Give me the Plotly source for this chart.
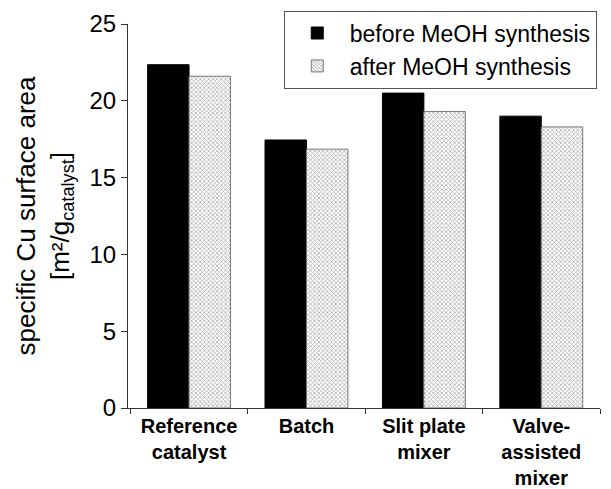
import plotly.graph_objects as go

categories = ["<b>Reference<br>catalyst</b>", "<b>Batch</b>", "<b>Slit plate<br>mixer</b>", "<b>Valve-<br>assisted<br>mixer</b>"]
before = [22.35, 17.45, 20.5, 19.0]
after = [21.6, 16.85, 19.3, 18.3]
x_pos = [0, 1, 2, 3]
boundaries = [-0.5, 0.5, 1.5, 2.5, 3.5]
y_ticks = [0, 5, 10, 15, 20, 25]

fig = go.Figure()
fig.add_trace(go.Bar(
    x=x_pos, y=before, name="before MeOH synthesis",
    marker=dict(color="black", line=dict(color="black", width=1)),
))
fig.add_trace(go.Bar(
    x=x_pos, y=after, name="after MeOH synthesis",
    marker=dict(color="white", line=dict(color="#777777", width=1),
                pattern=dict(shape="x", fgcolor="#5f5f5f", bgcolor="white", size=3, solidity=0.45)),
))

fig.update_layout(
    width=611, height=489,
    margin=dict(l=128, r=11, t=24, b=81, autoexpand=False),
    plot_bgcolor="white", paper_bgcolor="white",
    barmode="group", bargap=0.294, bargroupgap=0,
    font=dict(family="Liberation Sans, Arial, sans-serif", color="black"),
    showlegend=True,
    legend=dict(
        x=0.33, y=1.035, xanchor="left", yanchor="top",
        bordercolor="#555555", borderwidth=1, bgcolor="white",
        font=dict(size=23), tracegroupgap=0, itemwidth=55,
    ),
)

fig.update_xaxes(
    range=[-0.52, 3.5],
    tickvals=x_pos, ticktext=categories,
    ticks="", tickfont=dict(size=20),
    ticklabelstandoff=0, automargin=False,
    showline=True, linecolor="#333333", linewidth=1,
    showgrid=False, zeroline=False,
    minor=dict(tickvals=boundaries, ticks="outside", ticklen=5, tickcolor="#333333", tickwidth=1),
)
fig.update_yaxes(
    range=[0, 25], tickvals=y_ticks,
    ticks="outside", ticklen=6, tickcolor="#333333",
    tickfont=dict(size=24), automargin=False,
    showline=True, linecolor="#333333", linewidth=1,
    showgrid=False, zeroline=False,
    title=dict(text="specific Cu surface area<br>[m²/g<sub>catalyst</sub>]", font=dict(size=26), standoff=12),
)

fig.write_html("out.html")
